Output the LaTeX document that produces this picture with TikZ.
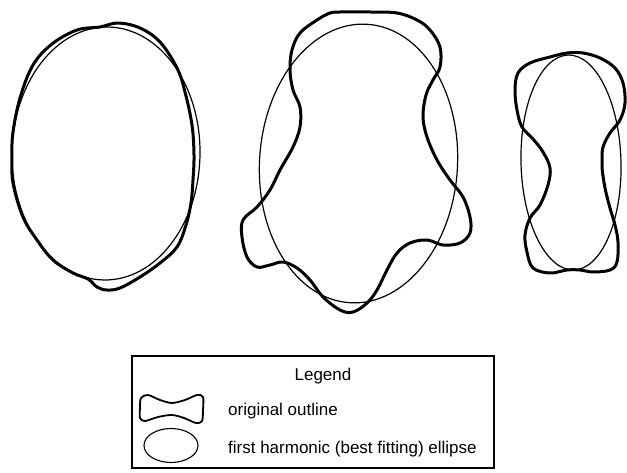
\documentclass[tikz,border=0pt]{standalone}
\usepackage{fontspec}
\setmainfont{Liberation Sans}
\begin{document}
\begin{tikzpicture}[x=1pt,y=-1pt,
  outline/.style={line width=3pt, line join=round},
  fitline/.style={line width=1.2pt},
  lbl/.style={font=\fontsize{17}{20}\selectfont, inner sep=0pt}]
\useasboundingbox[fill=white] (0,0) rectangle (627,473);

% left shape
\draw[fitline, shift={(106,153.5)}, rotate=-1] (0,0) ellipse [x radius=94, y radius=126.5];
\draw[outline] plot[smooth cycle, tension=0.6] coordinates {
 (100,27) (118,23) (140,28) (160,42) (177,68) (185,92) (192,125) (194,155) (193,180)
 (191,203) (186,225) (177,247) (160,263) (140,277) (120,288) (107,290) (97,287)
 (88,279) (73,273) (53,260) (37,240) (23,217) (13,183) (12,155) (13,132) (20,98)
 (33,65) (52,44) (77,30)};

% middle shape
\draw[fitline, shift={(358.5,163.5)}, rotate=-3.5] (0,0) ellipse [x radius=99, y radius=139.5];
\draw[outline] plot[smooth cycle, tension=0.6] coordinates {
 (340,12) (370,12) (397,13) (417,20) (430,30) (440,47) (440,67) (433,80) (426,95)
 (423,117) (427,137) (437,160) (450,180) (463,197) (470,217) (470,233) (460,243)
 (443,245) (427,240) (410,243) (397,253) (387,270) (377,290) (367,303) (353,312)
 (340,310) (323,297) (310,280) (297,268) (283,262) (270,265) (257,267) (247,257)
 (242,237) (243,220) (257,207) (270,190) (280,170) (293,147) (300,127) (300,107)
 (293,90) (290,70) (292,50) (300,33) (317,20) (330,13)};

% right shape
\draw[fitline, shift={(571,162.5)}, rotate=1.5] (0,0) ellipse [x radius=50, y radius=107.5];
\draw[outline] plot[smooth cycle, tension=0.6] coordinates {
 (567,53) (583,53) (600,58) (615,68) (623,83) (625,103) (620,120) (610,133) (603,147)
 (602,160) (602,168) (605,188) (610,208) (615,225) (618,242) (617,262) (610,270)
 (593,272) (580,270) (567,270) (550,273) (533,268) (527,252) (525,235) (530,218)
 (540,205) (548,185) (550,168) (543,152) (533,139) (522,127) (517,110) (515,90)
 (518,73) (530,63) (550,57)};

% legend
\draw[line width=1.4pt] (132,356) rectangle (494,468);
\node[lbl, anchor=base] (title) at (323,380) {Legend};
\draw[line width=1.8pt, line join=round] plot[smooth cycle, tension=0.5] coordinates {
 (141,398) (148,395) (160,400) (172,403) (185,400) (197,395) (203,397) (203,410)
 (202,421) (196,423) (184,418) (172,415) (158,417) (145,421) (140,418) (140,408)};
\draw[line width=1.1pt] (171,445.5) ellipse [x radius=27, y radius=17];
\node[lbl, anchor=base west] (orig) at (228,415) {original outline};
\node[lbl, anchor=base west] (first) at (228,453) {first harmonic (best fitting) ellipse};
\end{tikzpicture}
\end{document}
